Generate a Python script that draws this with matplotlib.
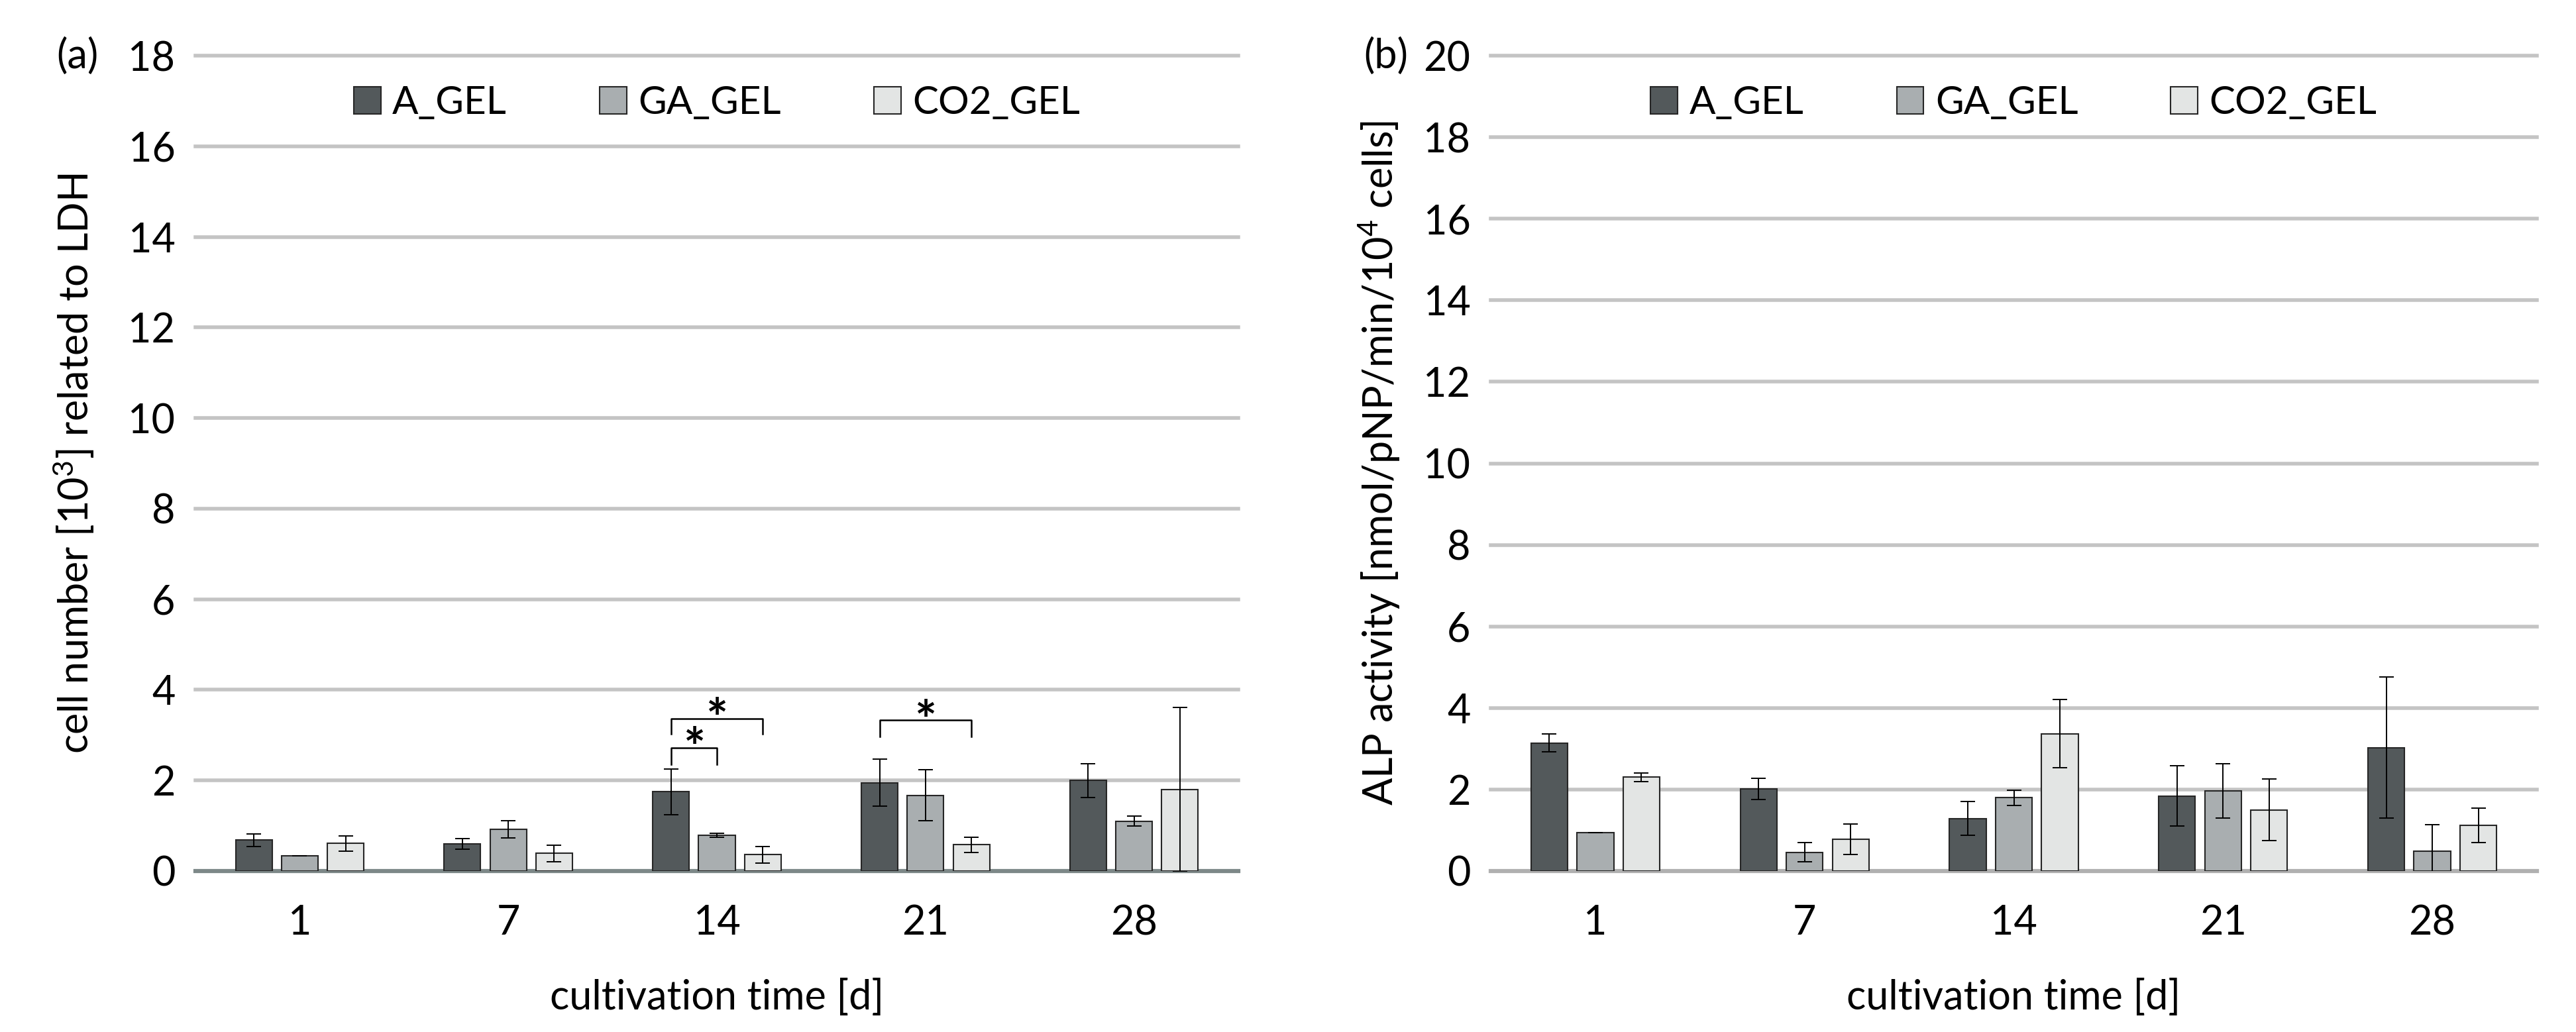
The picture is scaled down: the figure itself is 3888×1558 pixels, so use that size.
import matplotlib.pyplot as plt
import numpy as np

plt.rcParams['font.family'] = ['Lato', 'DejaVu Sans']
plt.rcParams['mathtext.fontset'] = 'custom'
plt.rcParams['mathtext.rm'] = 'Lato'
plt.rcParams['mathtext.default'] = 'rm'

days = ['1', '7', '14', '21', '28']
groups = ['A_GEL', 'GA_GEL', 'CO2_GEL']
colors = ['#53595b', '#a9aeb0', '#e3e5e4']

# (a) cell number [10^3] related to LDH
ldh_a = [0.68, 0.60, 1.75, 1.95, 2.00]
ldh_a_err = [0.14, 0.12, 0.50, 0.52, 0.37]
ldh_ga = [0.34, 0.92, 0.79, 1.67, 1.10]
ldh_ga_err = [0.0, 0.19, 0.04, 0.56, 0.11]
ldh_co2 = [0.61, 0.39, 0.36, 0.58, 1.80]
ldh_co2_err = [0.17, 0.18, 0.18, 0.17, 1.81]

# (b) ALP activity
alp_a = [3.14, 2.02, 1.29, 1.84, 3.03]
alp_a_err = [0.22, 0.26, 0.42, 0.74, 1.73]
alp_ga = [0.94, 0.46, 1.80, 1.97, 0.48]
alp_ga_err = [0.0, 0.24, 0.19, 0.67, 0.65]
alp_co2 = [2.30, 0.78, 3.37, 1.50, 1.12]
alp_co2_err = [0.11, 0.38, 0.84, 0.76, 0.42]

# significance brackets in (a): day index, from bar, to bar, bracket height, leg end
sig_day = [2, 2, 3]
sig_from = [0, 0, 0]
sig_to = [1, 2, 2]
sig_top = [2.72, 3.37, 3.33]
sig_leg = [2.35, 3.02, 2.97]

W, H = 3888, 1558
fig = plt.figure(figsize=(W / 100, H / 100), dpi=100)
ax1 = fig.add_axes([295 / W, 1 - 1315 / H, 1574 / W, 1231 / H])
ax2 = fig.add_axes([2250 / W, 1 - 1315 / H, 1579 / W, 1231 / H])

x = np.arange(len(days))
offsets = [-0.22, 0.0, 0.22]
bw = 0.175


def draw_panel(ax, vals, errs, ymax, ylabel, zero_color, label_x):
    for i in range(3):
        ax.bar(x + offsets[i], vals[i], bw, color=colors[i], edgecolor='#262626',
               linewidth=1.5, label=groups[i], zorder=3)
        ax.errorbar(x + offsets[i], vals[i], yerr=errs[i], fmt='none', ecolor='black',
                    elinewidth=1.4, capsize=8, capthick=1.4, zorder=4)
    ax.set_xlim(-0.5, len(days) - 0.5)
    ax.set_ylim(0, ymax)
    ax.set_yticks(np.arange(0, ymax + 1, 2))
    ax.set_xticks(x)
    ax.set_xticklabels(days)
    ax.yaxis.grid(True, color='#c4c4c4', linewidth=4)
    for gl in ax.get_ygridlines():
        gl.set_clip_on(False)
    ax.set_axisbelow(True)
    ax.axhline(0, color=zero_color, linewidth=4.5, zorder=2.5, clip_on=False)
    for s in ax.spines.values():
        s.set_visible(False)
    ax.tick_params(axis='both', length=0, labelsize=44)
    ax.tick_params(axis='y', pad=22)
    ax.tick_params(axis='x', pad=36)
    ax.set_xlabel('cultivation time [d]', fontsize=44, labelpad=40)
    ax.set_ylabel(ylabel, fontsize=44)
    ax.yaxis.set_label_coords(label_x, 0.5)
    ax.legend(loc='center', bbox_to_anchor=(0.5, 0.942), ncol=3, frameon=False,
              fontsize=42, handlelength=0.7, handleheight=0.7, handletextpad=0.3,
              columnspacing=2.4)


draw_panel(ax1, [ldh_a, ldh_ga, ldh_co2], [ldh_a_err, ldh_ga_err, ldh_co2_err], 18,
           'cell number [10$^{3}$] related to LDH', '#7d8888', -0.095)
draw_panel(ax2, [alp_a, alp_ga, alp_co2], [alp_a_err, alp_ga_err, alp_co2_err], 20,
           'ALP activity [nmol/pNP/min/10$^{4}$ cells]', '#b0b0b0', -0.085)

for d, f, t, top, leg in zip(sig_day, sig_from, sig_to, sig_top, sig_leg):
    x0 = d + offsets[f]
    x1 = d + offsets[t]
    ax1.plot([x0, x0, x1, x1], [leg, top, top, leg], color='black', linewidth=1.8, zorder=5)
    ax1.text((x0 + x1) / 2, top - 0.4, '*', ha='center', va='baseline', fontsize=56,
             fontweight='bold', zorder=5)

fig.text(148 / W, 1 - 85 / H, '(a)', ha='right', va='center', fontsize=44)
fig.text(2125 / W, 1 - 85 / H, '(b)', ha='right', va='center', fontsize=44)

fig.savefig('out.png', dpi=100)
